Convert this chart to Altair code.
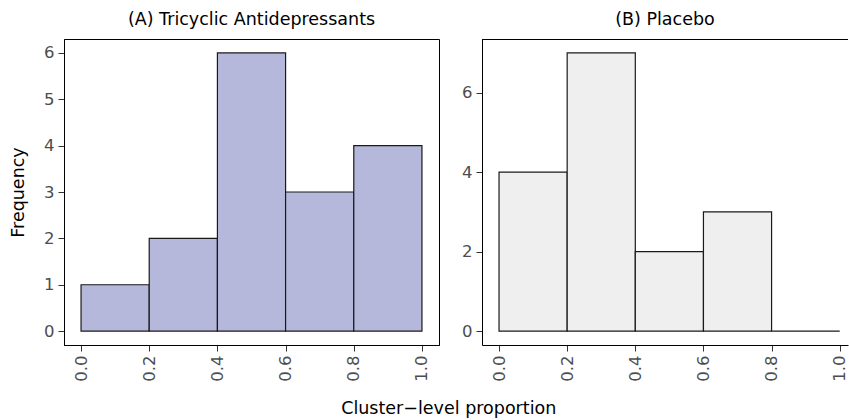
import altair as alt
import pandas as pd

# ---- data ----
bin_edges = [0.0, 0.2, 0.4, 0.6, 0.8, 1.0]
tca_counts = [1, 2, 6, 3, 4]
placebo_counts = [4, 7, 2, 3, 0]
x_ticks = [0.0, 0.2, 0.4, 0.6, 0.8, 1.0]
tca_y_ticks = [0, 1, 2, 3, 4, 5, 6]
placebo_y_ticks = [0, 2, 4, 6]
panel_titles = ["(A) Tricyclic Antidepressants", "(B) Placebo"]
x_title = "Cluster\u2212level proportion"
y_title = "Frequency"

FONT = "DejaVu Sans"
TITLE_SIZE = 17.5
LABEL_SIZE = 16.5


def frame(counts):
    return pd.DataFrame({"start": bin_edges[:-1], "end": bin_edges[1:], "count": counts})


def panel_title(text):
    return alt.TitleParams(text, font=FONT, fontSize=TITLE_SIZE, fontWeight="normal",
                           color="black", anchor="middle", offset=11)


x_axis = alt.Axis(values=x_ticks, format=".1f", labelAngle=270, title=None)

left = alt.Chart(frame(tca_counts)).mark_bar(
    fill="#b5b8da", stroke="#1a1a1a", strokeWidth=1.2
).encode(
    x=alt.X("start:Q", scale=alt.Scale(domain=[-0.05, 1.05], nice=False, zero=False), axis=x_axis),
    x2="end:Q",
    y=alt.Y("count:Q", scale=alt.Scale(domain=[-0.3, 6.3], nice=False, zero=False),
            axis=alt.Axis(values=tca_y_ticks, title=y_title, titlePadding=16)),
    y2=alt.datum(0),
).properties(width=375, height=306, title=panel_title(panel_titles[0]))

right_w = 366
bars_r = alt.Chart(frame(placebo_counts)).mark_bar(
    fill="#efefef", stroke="#1a1a1a", strokeWidth=1.2
).encode(
    x=alt.X("start:Q", scale=alt.Scale(domain=[-0.05, 1.0243], nice=False, zero=False), axis=x_axis),
    x2="end:Q",
    y=alt.Y("count:Q", scale=alt.Scale(domain=[-0.35, 7.35], nice=False, zero=False),
            axis=alt.Axis(values=placebo_y_ticks, title=None)),
    y2=alt.datum(0),
)
top_border = alt.Chart(frame(placebo_counts)).mark_rule(color="black", strokeWidth=1).encode(
    x=alt.value(0), x2=alt.value(right_w), y=alt.value(0.5)
)
right = alt.layer(bars_r, top_border).properties(
    width=right_w, height=306, title=panel_title(panel_titles[1]),
    view=alt.ViewBackground(strokeOpacity=0)
)

chart = alt.hconcat(left, right, spacing=43, bounds="flush").properties(
    title=alt.TitleParams(x_title, orient="bottom", anchor="middle", font=FONT,
                          fontSize=TITLE_SIZE, fontWeight="normal", color="black",
                          dx=20, offset=18),
    padding={"left": 9, "top": 10, "right": 0, "bottom": 2},
).configure_view(
    stroke="black", strokeWidth=1
).configure_axis(
    labelFont=FONT, labelFontSize=LABEL_SIZE, labelColor="#4d4d4d",
    titleFont=FONT, titleFontSize=TITLE_SIZE, titleColor="black", titleFontWeight="normal",
    tickColor="#333333", tickSize=6, tickWidth=1,
    domainColor="black", domainWidth=1, labelPadding=4, grid=False,
)

chart.save("out.html", embed_options={"renderer": "svg", "actions": False})
